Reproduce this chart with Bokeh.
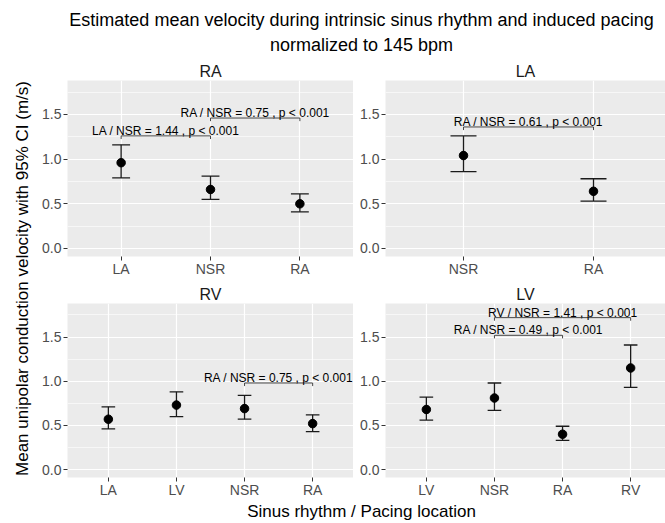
from bokeh.plotting import figure
from bokeh.layouts import row, column
from bokeh.models import Range1d, FixedTicker, PrintfTickFormatter, ColumnDataSource, Title
from bokeh.embed import file_html
from bokeh.resources import INLINE
from bokeh.core.properties import value

# ---------------- data ----------------
TITLE_1 = "Estimated mean velocity during intrinsic sinus rhythm and induced pacing"
TITLE_2 = "normalized to 145 bpm"
Y_LABEL = "Mean unipolar conduction velocity with 95% CI (m/s)"
X_LABEL = "Sinus rhythm / Pacing location"

ra_cats = ["LA", "NSR", "RA"]
ra_mean = [0.96, 0.66, 0.50]
ra_lower = [0.79, 0.55, 0.41]
ra_upper = [1.16, 0.81, 0.61]
ra_br_from = ["LA", "NSR"]
ra_br_to = ["NSR", "RA"]
ra_br_y = [1.26, 1.46]
ra_br_label = ["LA / NSR = 1.44 , p < 0.001", "RA / NSR = 0.75 , p < 0.001"]

la_cats = ["NSR", "RA"]
la_mean = [1.04, 0.64]
la_lower = [0.86, 0.53]
la_upper = [1.26, 0.78]
la_br_from = ["NSR"]
la_br_to = ["RA"]
la_br_y = [1.36]
la_br_label = ["RA / NSR = 0.61 , p < 0.001"]

rv_cats = ["LA", "LV", "NSR", "RA"]
rv_mean = [0.57, 0.73, 0.69, 0.52]
rv_lower = [0.46, 0.60, 0.57, 0.43]
rv_upper = [0.71, 0.88, 0.84, 0.62]
rv_br_from = ["NSR"]
rv_br_to = ["RA"]
rv_br_y = [0.98]
rv_br_label = ["RA / NSR = 0.75 , p < 0.001"]

lv_cats = ["LV", "NSR", "RA", "RV"]
lv_mean = [0.68, 0.81, 0.40, 1.15]
lv_lower = [0.56, 0.67, 0.33, 0.93]
lv_upper = [0.82, 0.98, 0.49, 1.41]
lv_br_from = ["NSR", "NSR"]
lv_br_to = ["RA", "RV"]
lv_br_y = [1.52, 1.72]
lv_br_label = ["RA / NSR = 0.49 , p < 0.001", "RV / NSR = 1.41 , p < 0.001"]

y_ticks = [0.0, 0.5, 1.0, 1.5]
y_minor_ticks = [0.25, 0.75, 1.25, 1.75]
y_lo, y_hi = -0.09, 1.88

FONT = "Liberation Sans"
BG = "#EBEBEB"


def make_panel(name, cats, mean, lower, upper, br_from, br_to, br_y, br_label,
               width, height, b_left, b_top, b_bottom, visible=1.0):
    n = len(cats)
    xs = [i + 1 for i in range(n)]
    x_end = 0.4 + (n + 0.2) * visible
    p = figure(width=width, height=height, x_range=Range1d(0.4, x_end),
               y_range=Range1d(y_lo, y_hi), output_backend="svg",
               toolbar_location=None, min_border_left=b_left, min_border_right=0,
               min_border_top=b_top, min_border_bottom=b_bottom)
    p.background_fill_color = BG
    p.border_fill_color = "white"
    p.outline_line_color = None
    p.title.text = name
    p.title.align = "center"
    p.title.text_font = FONT
    p.title.text_font_size = "16px"
    p.title.text_font_style = "normal"
    p.title.text_color = "#1A1A1A"
    p.title.standoff = 2

    # axes
    p.xaxis.ticker = FixedTicker(ticks=xs)
    p.xaxis.major_label_overrides = {x: c for x, c in zip(xs, cats)}
    p.yaxis.ticker = FixedTicker(ticks=y_ticks, minor_ticks=y_minor_ticks)
    p.yaxis.formatter = PrintfTickFormatter(format="%.1f")
    for ax in (p.xaxis, p.yaxis):
        ax.axis_line_color = None
        ax.major_tick_line_color = "#333333"
        ax.major_tick_line_width = 1
        ax.major_tick_in = 0
        ax.major_tick_out = 4
        ax.minor_tick_line_color = None
        ax.major_label_text_font = FONT
        ax.major_label_text_font_size = "14px"
        ax.major_label_text_color = "#4D4D4D"
        ax.major_label_standoff = 2
    p.xaxis.major_label_standoff = 0
    # grids
    p.xgrid.grid_line_color = "white"
    p.xgrid.grid_line_width = 1.2
    p.ygrid.grid_line_color = "white"
    p.ygrid.grid_line_width = 1.2
    p.ygrid.minor_grid_line_color = "white"
    p.ygrid.minor_grid_line_width = 0.6

    # error bars
    src = ColumnDataSource(dict(
        x=xs, mean=mean, lower=lower, upper=upper,
        xl=[x - 0.1 for x in xs], xr=[x + 0.1 for x in xs]))
    p.segment(x0="x", y0="lower", x1="x", y1="upper", source=src,
              line_color="#1A1A1A", line_width=1.3)
    p.segment(x0="xl", y0="upper", x1="xr", y1="upper", source=src,
              line_color="#1A1A1A", line_width=1.3)
    p.segment(x0="xl", y0="lower", x1="xr", y1="lower", source=src,
              line_color="#1A1A1A", line_width=1.3)
    p.scatter(x="x", y="mean", source=src, size=8.5, color="black")

    # brackets
    pos = {c: x for c, x in zip(cats, xs)}
    xa = [pos[c] for c in br_from]
    xb = [pos[c] for c in br_to]
    tip = 0.035
    bsrc = ColumnDataSource(dict(
        xa=xa, xb=xb, y=br_y, ytip=[y - tip for y in br_y],
        xm=[(a + b) / 2 for a, b in zip(xa, xb)], label=br_label))
    p.segment(x0="xa", y0="y", x1="xb", y1="y", source=bsrc,
              line_color="#333333", line_width=0.9)
    p.segment(x0="xa", y0="y", x1="xa", y1="ytip", source=bsrc,
              line_color="#333333", line_width=0.9)
    p.segment(x0="xb", y0="y", x1="xb", y1="ytip", source=bsrc,
              line_color="#333333", line_width=0.9)
    p.text(x="xm", y="y", text="label", source=bsrc, text_align="center",
           text_baseline="alphabetic", y_offset=-5, text_font=value(FONT),
           text_font_size="12px", text_color="black")
    return p


def blank(width, height, bl=0, br=0, bt=0, bb=0, loc="above"):
    p = figure(width=width, height=height, x_range=Range1d(0, 1), y_range=Range1d(0, 1),
               x_axis_type=None, y_axis_type=None, output_backend="svg",
               toolbar_location=None, title_location=loc,
               min_border_left=bl, min_border_right=br, min_border_top=bt,
               min_border_bottom=bb)
    p.outline_line_color = None
    p.background_fill_color = "white"
    p.border_fill_color = "white"
    p.xgrid.visible = False
    p.ygrid.visible = False
    return p


def style_title(t, size):
    t.align = "center"
    t.text_font = FONT
    t.text_font_size = size
    t.text_font_style = "normal"
    t.text_color = "black"


# header (outer title = line 1, inner added title = line 2)
header = blank(665, 56, bl=45, bt=55)
header.title.text = TITLE_1
style_title(header.title, "18px")
header.title.standoff = 4
t2 = Title(text=TITLE_2)
style_title(t2, "18px")
t2.standoff = 2
header.add_layout(t2, "above")

# y label
ylab = blank(38, 444, bl=33, loc="left")
ylab.title.text = Y_LABEL
style_title(ylab.title, "17px")
ylab.title.standoff = 4

# footer
footer = blank(665, 23, bl=57, bt=20, loc="above")
footer.title.text = X_LABEL
style_title(footer.title, "17px")
footer.title.standoff = 5

W_L, W_R = 315, 312
H_T, H_B = 224, 220
vis_r = 280 / 286

tl = make_panel("RA", ra_cats, ra_mean, ra_lower, ra_upper, ra_br_from, ra_br_to, ra_br_y, ra_br_label,
                W_L, H_T, 29, 24, 24)
tr = make_panel("LA", la_cats, la_mean, la_lower, la_upper, la_br_from, la_br_to, la_br_y, la_br_label,
                W_R, H_T, 32, 24, 24, vis_r)
bl_ = make_panel("RV", rv_cats, rv_mean, rv_lower, rv_upper, rv_br_from, rv_br_to, rv_br_y, rv_br_label,
                 W_L, H_B, 29, 23, 20)
br_ = make_panel("LV", lv_cats, lv_mean, lv_lower, lv_upper, lv_br_from, lv_br_to, lv_br_y, lv_br_label,
                 W_R, H_B, 32, 23, 20, vis_r)

grid = column(row(tl, tr), row(bl_, br_))
layout = column(header, row(ylab, grid), footer)

open("out.html", "w").write(file_html(layout, INLINE))
